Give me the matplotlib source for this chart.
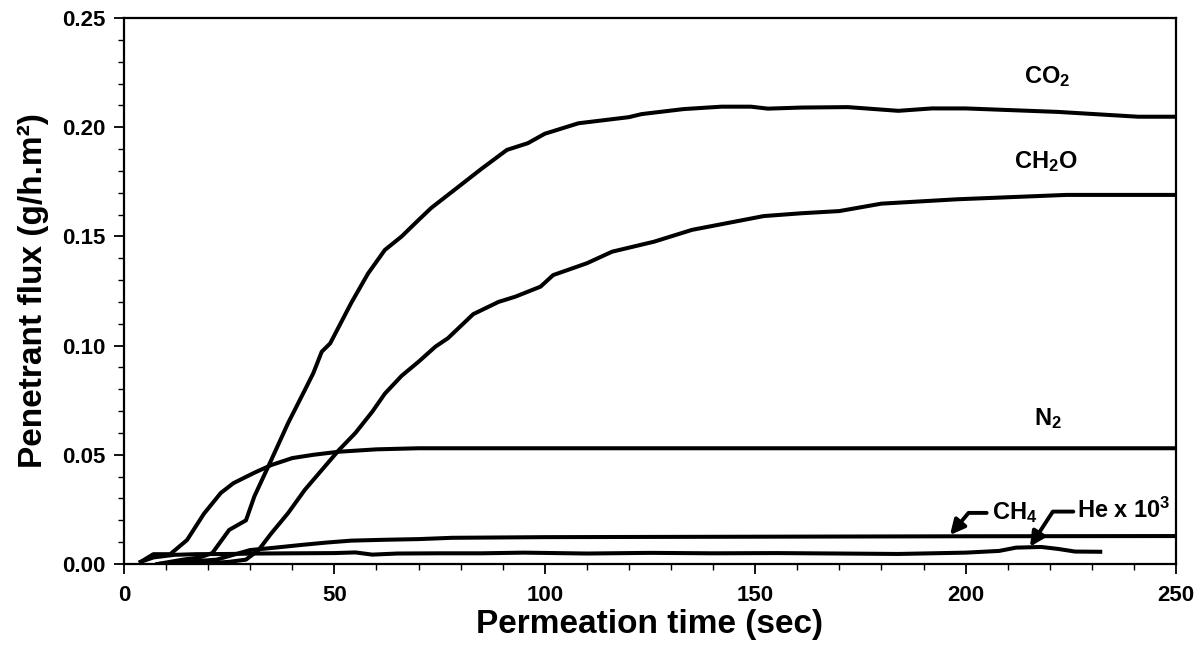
import numpy as np
import matplotlib
matplotlib.use("Agg")
import matplotlib.pyplot as plt
from matplotlib.ticker import MultipleLocator, FormatStrFormatter

# fonts: bold Arial-like everywhere, mathtext too (for subscripts)
plt.rcParams['font.family'] = ['Liberation Sans', 'DejaVu Sans']
plt.rcParams['font.weight'] = 'bold'
plt.rcParams['mathtext.fontset'] = 'custom'
plt.rcParams['mathtext.rm'] = 'Liberation Sans:bold'
plt.rcParams['mathtext.it'] = 'Liberation Sans:bold'
plt.rcParams['mathtext.bf'] = 'Liberation Sans:bold'

# data (time in sec, flux in g/h.m2)
co2_t = [8, 14, 18, 21, 25, 29, 31, 35, 39, 43, 45, 47, 49, 54, 58, 62, 66, 70, 73,
         79, 85, 91, 96, 100, 108, 120, 123, 133, 142, 149, 153, 161, 172, 184, 192,
         200, 222, 241, 250]
co2_v = [0.0, 0.002, 0.003, 0.005, 0.0156, 0.020, 0.031, 0.0476, 0.0645, 0.0797,
         0.0874, 0.0972, 0.101, 0.1195, 0.133, 0.1438, 0.150, 0.1575, 0.163, 0.172,
         0.181, 0.1896, 0.1927, 0.197, 0.2018, 0.2046, 0.206, 0.2083, 0.2094, 0.2094,
         0.2085, 0.209, 0.2092, 0.2075, 0.2086, 0.2086, 0.207, 0.2048, 0.2048]

ch2o_t = [18, 25, 29, 32, 35, 39, 43, 47, 51, 55, 59, 62, 66, 70, 74, 77, 83, 89, 93,
          99, 102, 110, 116, 126, 135, 145, 152, 161, 170, 180, 198, 224, 250]
ch2o_v = [0.0, 0.001, 0.002, 0.0064, 0.014, 0.0233, 0.034, 0.043, 0.052, 0.060,
          0.0697, 0.078, 0.0862, 0.0926, 0.0995, 0.1034, 0.1144, 0.120, 0.1224, 0.127,
          0.1323, 0.1377, 0.143, 0.1476, 0.153, 0.1567, 0.1593, 0.1606, 0.1616, 0.165,
          0.167, 0.169, 0.169]

n2_t = [4, 7, 11, 15, 19, 23, 26, 31, 35, 40, 45, 51, 60, 70, 100, 150, 200, 250]
n2_v = [0.001, 0.0045, 0.0045, 0.011, 0.023, 0.0325, 0.037, 0.0418, 0.0453, 0.0485,
        0.050, 0.0514, 0.0525, 0.053, 0.053, 0.053, 0.053, 0.053]

ch4_t = [8, 15, 22, 30, 36, 42, 48, 54, 62, 70, 78, 100, 150, 200, 250]
ch4_v = [0.0, 0.001, 0.002, 0.0064, 0.0075, 0.0087, 0.0098, 0.0107, 0.0111, 0.0114,
         0.012, 0.0123, 0.0125, 0.0127, 0.0128]

he_t = [4, 7, 12, 17, 25, 32, 40, 50, 55, 59, 65, 75, 85, 95, 110, 125, 140, 155, 170,
        184, 200, 208, 212, 218, 222, 226, 232]
he_v = [0.001, 0.003, 0.0042, 0.0045, 0.0046, 0.0048, 0.0049, 0.005, 0.0053, 0.0043,
        0.0048, 0.0049, 0.0049, 0.0052, 0.0048, 0.0051, 0.0049, 0.005, 0.0048, 0.0046,
        0.0052, 0.006, 0.0075, 0.0078, 0.0069, 0.0057, 0.0056]

fig = plt.figure(figsize=(12.01, 6.5), dpi=100)
ax = fig.add_axes([0.1032, 0.1323, 0.876, 0.84])

for t, v in [(co2_t, co2_v), (ch2o_t, ch2o_v), (n2_t, n2_v), (ch4_t, ch4_v), (he_t, he_v)]:
    ax.plot(t, v, color='black', lw=2.9, solid_joinstyle='round')

ax.set_xlim(0, 250)
ax.set_ylim(0, 0.25)
ax.xaxis.set_major_locator(MultipleLocator(50))
ax.xaxis.set_minor_locator(MultipleLocator(10))
ax.yaxis.set_major_locator(MultipleLocator(0.05))
ax.yaxis.set_minor_locator(MultipleLocator(0.01))
ax.yaxis.set_major_formatter(FormatStrFormatter('%.2f'))
ax.tick_params(which='major', direction='out', length=7, width=1.3, labelsize=16)
ax.tick_params(which='minor', direction='out', length=4, width=1.0)
ax.tick_params(axis='x', pad=8)
ax.tick_params(axis='y', pad=6)
for s in ax.spines.values():
    s.set_linewidth(1.6)

ax.set_xlabel('Permeation time (sec)', fontsize=24, fontweight='bold', labelpad=2)
ax.set_ylabel('Penetrant flux (g/h.m²)', fontsize=24, fontweight='bold', labelpad=10)

# curve labels
ax.text(219.3, 0.2231, 'CO$_2$', fontsize=17, ha='center', va='center')
ax.text(219.0, 0.1843, 'CH$_2$O', fontsize=17, ha='center', va='center')
ax.text(219.6, 0.0668, 'N$_2$', fontsize=17, ha='center', va='center')
ax.text(206.3, 0.0234, 'CH$_4$', fontsize=17, ha='left', va='center')
ax.text(226.4, 0.0245, 'He x 10$^3$', fontsize=17, ha='left', va='center')

arrow = dict(arrowstyle='-|>', color='black', lw=2.8, mutation_scale=22,
             shrinkA=0, shrinkB=0)
ax.annotate('', xy=(196.3, 0.0133), xytext=(205.0, 0.0234),
            arrowprops=dict(connectionstyle='angle,angleA=0,angleB=50,rad=0', **arrow))
ax.annotate('', xy=(215.3, 0.0079), xytext=(225.6, 0.0240),
            arrowprops=dict(connectionstyle='angle,angleA=0,angleB=57,rad=0', **arrow))

fig.savefig('out.png', dpi=100)
